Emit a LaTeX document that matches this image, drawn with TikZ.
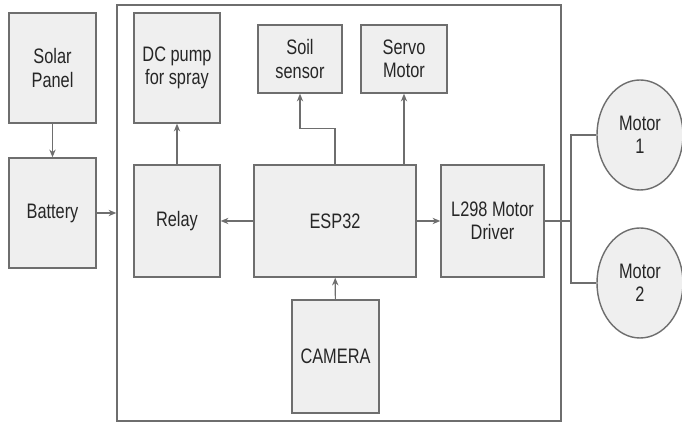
\documentclass[tikz,border=0pt]{standalone}
\usepackage{xcolor}
\usepackage{fontspec}
\setmainfont[FakeStretch=0.78]{Liberation Sans}
\usepackage{tikz}
\usetikzlibrary{arrows.meta,shapes.geometric}
\definecolor{AGFill}{HTML}{EFEFEF}
\definecolor{AGLine}{HTML}{6E6E6E}
\definecolor{AGText}{HTML}{262626}

\begin{document}
\begin{tikzpicture}[x=1cm,y=1cm,
  block/.style={draw=AGLine,fill=AGFill,line width=1pt,inner sep=0pt,align=center,text=AGText,font=\fontsize{14.9}{16.4}\selectfont},
  wheel/.style={block,ellipse},
  link/.style={AGLine,line width=.75pt},
  arr/.style={link,-{Stealth[length=5.5pt,width=4.5pt]}}]
\path[use as bounding box] (0,0) rectangle (17.05,10.575);
\node[draw=AGLine,line width=1pt,minimum width=11.1cm,minimum height=10.4cm] (board) at (8.475,5.25) {};
\node[block,minimum width=2.175cm,minimum height=2.75cm] (solar) at (1.3125,8.875) {Solar\\Panel};
\node[block,minimum width=2.175cm,minimum height=2.75cm] (battery) at (1.3125,5.25) {Battery};
\node[block,minimum width=2.15cm,minimum height=2.75cm] (pump) at (4.425,8.875) {DC pump\\for spray};
\node[block,minimum width=2.15cm,minimum height=2.8cm] (relay) at (4.425,5.05) {Relay};
\node[block,minimum width=2.1cm,minimum height=1.7cm] (soil) at (7.5,9.1) {Soil\\sensor};
\node[block,minimum width=2.15cm,minimum height=1.7cm] (servo) at (10.1,9.1) {Servo\\Motor};
\node[block,minimum width=4.05cm,minimum height=2.8cm] (esp) at (8.375,5.05) {ESP32};
\node[block,minimum width=2.575cm,minimum height=2.8cm] (driver) at (12.3125,5.05) {L298 Motor\\Driver};
\node[block,minimum width=2.175cm,minimum height=2.825cm] (cam) at (8.3875,1.6625) {CAMERA};
\node[wheel,minimum width=2.15cm,minimum height=2.75cm] (motorA) at (16.0,7.2) {Motor\\1};
\node[wheel,minimum width=2.15cm,minimum height=2.75cm] (motorB) at (16.0,3.5) {Motor\\2};
\coordinate (split) at (14.275,5.05);
% power side
\draw[arr] (solar) -- (battery);
\draw[arr] (battery.east) -- (battery.east -| board.west);
% controller outputs
\draw[arr] (esp) -- (relay);
\draw[arr] (relay) -- (pump);
\draw[arr] (esp) -- (driver);
\draw[arr] (cam) -- (esp);
\draw[arr] (esp.north) -- ++(0,0.9) -| (soil.south);
\draw[arr] (servo.south |- esp.north) -- (servo.south);
% motors
\draw[link] (driver.east) -- (split);
\draw[link] (split) |- (motorA.west);
\draw[link] (split) |- (motorB.west);
\end{tikzpicture}
\end{document}
